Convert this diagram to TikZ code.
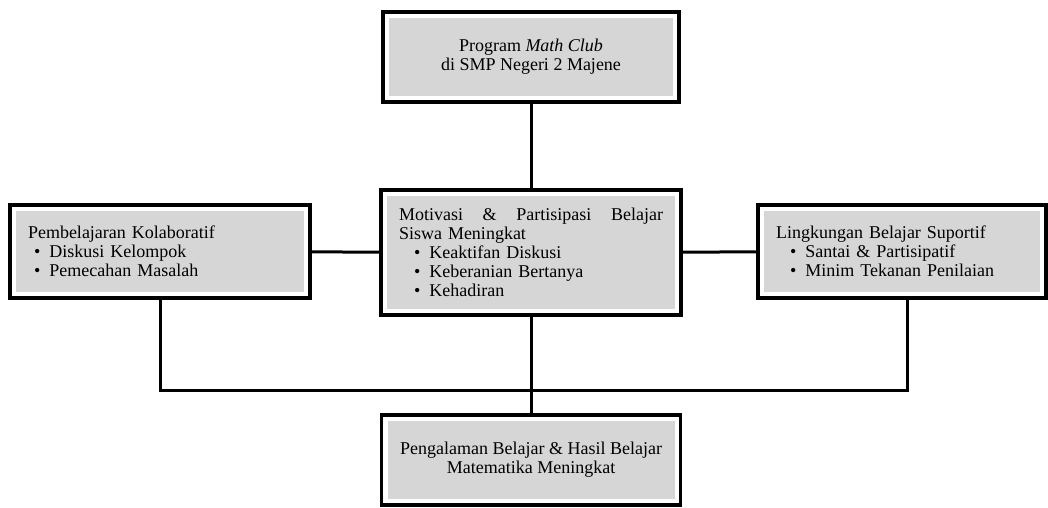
\documentclass[tikz,border=0pt]{standalone}
\usepackage{fontspec}
\setmainfont{Liberation Serif}
\usepackage{tikz}
\definecolor{boxgrey}{RGB}{214,214,214}

\begin{document}
\begin{tikzpicture}[x=1pt,y=-1pt,
  box/.style={draw, line width=3.5pt, fill=white, inner ysep=4pt,
    font=\fontsize{18pt}{19pt}\selectfont,
    path picture={\fill[boxgrey] ([shift={(6pt,-6pt)}]path picture bounding box.north west)
      rectangle ([shift={(-6pt,6pt)}]path picture bounding box.south east);}},
  link/.style={line width=3pt}]
\useasboundingbox[fill=white] (0,0) rectangle (1048,507);
% boxes
\node [box, minimum width=296pt, minimum height=90pt, align=center] (prog) at (531,57)
  {Program \textit{Math Club}\\ di SMP Negeri 2 Majene};
\node [box, text width=264pt, inner xsep=18pt, minimum height=93pt, align=left] (kolab) at (160,251.5)
  {Pembelajaran Kolaboratif\\
   \hspace*{6pt}\textbullet\hspace{9pt}Diskusi Kelompok\\
   \hspace*{6pt}\textbullet\hspace{9pt}Pemecahan Masalah};
\node [box, text width=264pt, inner xsep=18pt, minimum height=125pt, align=left] (motiv) at (531,252.5)
  {Motivasi \hfill \& \hfill Partisipasi \hfill Belajar\\
   Siswa Meningkat\\
   \hspace*{15pt}\textbullet\hspace{9pt}Keaktifan Diskusi\\
   \hspace*{15pt}\textbullet\hspace{9pt}Keberanian Bertanya\\
   \hspace*{15pt}\textbullet\hspace{9pt}Kehadiran};
\node [box, text width=252pt, inner xsep=18pt, minimum height=93pt, align=left] (ling) at (902,251.5)
  {Lingkungan Belajar Suportif\\
   \hspace*{14pt}\textbullet\hspace{9pt}Santai \& Partisipatif\\
   \hspace*{14pt}\textbullet\hspace{9pt}Minim Tekanan Penilaian};
\node [box, minimum width=299pt, minimum height=90pt, align=center] (hasil) at (531,460)
  {Pengalaman Belajar \& Hasil Belajar\\ Matematika Meningkat};
% connectors
\coordinate (bus) at (531,390);
\path [link] (prog) edge (motiv);
\path [link] (kolab) edge (motiv);
\path [link] (motiv) edge (ling);
\path [link] (motiv) edge (hasil);
\draw [link] (kolab.south) |- (bus) -| ([xshift=5pt]ling.south);
\end{tikzpicture}
\end{document}
